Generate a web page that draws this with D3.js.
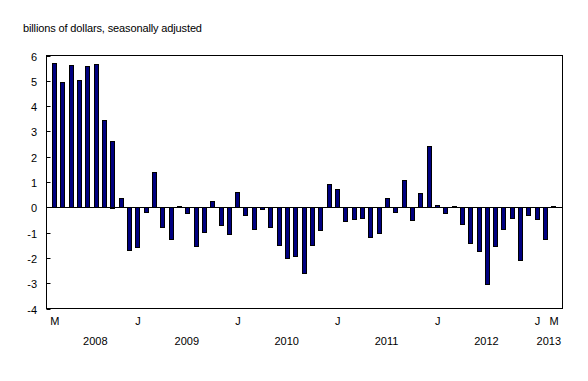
<!DOCTYPE html>
<html>
<head>
<meta charset="utf-8">
<script src="https://cdn.jsdelivr.net/npm/d3@7"></script>
<style>
  body { margin: 0; background: #fff; }
  svg text { font-family: "Liberation Sans", Arial, sans-serif; font-size: 11px; fill: #000; }
</style>
</head>
<body>
<script>
// monthly values, March 2008 to March 2013
const months = d3.timeMonths(new Date(2008, 2, 1), new Date(2013, 3, 1));
const values = [
  5.70, 4.95, 5.62, 5.03, 5.59, 5.66, 3.44, 2.63, 0.37, -1.70,
  -1.60, -0.21, 1.39, -0.79, -1.28, 0.05, -0.25, -1.56, -1.00, 0.24,
  -0.71, -1.08, 0.59, -0.32, -0.88, -0.09, -0.80, -1.50, -2.03, -1.95,
  -2.59, -1.52, -0.92, 0.92, 0.73, -0.57, -0.49, -0.45, -1.20, -1.04,
  0.37, -0.21, 1.08, -0.53, 0.57, 2.43, 0.08, -0.25, 0.05, -0.69,
  -1.44, -1.75, -3.06, -1.56, -0.88, -0.45, -2.11, -0.33, -0.49, -1.28,
  0.05
];
const yTicks = [-4, -3, -2, -1, 0, 1, 2, 3, 4, 5, 6];
const years = [2008, 2009, 2010, 2011, 2012, 2013];
const title = "billions of dollars, seasonally adjusted";

const data = months.map((m, i) => ({ date: m, value: values[i] }));

const width = 588, height = 381;
const margin = { left: 46.5, right: 562.5, top: 55.5, bottom: 308.5 };

const svg = d3.select("body").append("svg")
  .attr("width", width)
  .attr("height", height);

const x = d3.scaleBand()
  .domain(data.map(d => +d.date))
  .range([margin.left, margin.right])
  .paddingInner(0.34)
  .paddingOuter(0.67);

const y = d3.scaleLinear()
  .domain([-4, 6])
  .range([margin.bottom, margin.top]);

svg.append("text")
  .attr("x", 23)
  .attr("y", 32)
  .style("letter-spacing", "-0.13px")
  .text(title);

// y axis labels + short inward ticks
const yAxis = svg.append("g");
yTicks.forEach(t => {
  const yy = Math.round(y(t)) + 0.5;
  yAxis.append("text")
    .attr("x", 37)
    .attr("y", yy + 4)
    .attr("text-anchor", "end")
    .text(t);
  yAxis.append("line")
    .attr("x1", margin.left).attr("x2", margin.left + 4)
    .attr("y1", yy).attr("y2", yy)
    .attr("stroke", "#000");
});

// bars
svg.append("g")
  .selectAll("rect")
  .data(data)
  .join("rect")
  .attr("x", d => Math.round(x(+d.date)) + 0.5)
  .attr("width", Math.round(x.bandwidth()) - 1)
  .attr("y", d => Math.round(y(Math.max(0, d.value))) + 0.5)
  .attr("height", d => Math.max(1, Math.round(Math.abs(y(d.value) - y(0)))))
  .attr("fill", "#000080")
  .attr("stroke", "#000")
  .attr("stroke-width", 1);

// zero line
const y0 = Math.round(y(0)) + 0.5;
svg.append("line")
  .attr("x1", margin.left).attr("x2", margin.right)
  .attr("y1", y0).attr("y2", y0)
  .attr("stroke", "#000");

// frame
svg.append("rect")
  .attr("x", margin.left).attr("y", margin.top)
  .attr("width", margin.right - margin.left).attr("height", margin.bottom - margin.top)
  .attr("fill", "none")
  .attr("stroke", "#000");

// month labels: first/last month and each January
const cx = d => x(+d.date) + x.bandwidth() / 2;
const labelled = data.filter((d, i) => i === 0 || i === data.length - 1 || d.date.getMonth() === 0);
svg.append("g")
  .selectAll("text")
  .data(labelled)
  .join("text")
  .attr("x", d => cx(d))
  .attr("y", 325)
  .attr("text-anchor", "middle")
  .text(d => d3.timeFormat("%B")(d.date).charAt(0));

// year labels
svg.append("g")
  .selectAll("text")
  .data(years)
  .join("text")
  .attr("x", yr => {
    const ds = data.filter(d => d.date.getFullYear() === yr);
    return (cx(ds[0]) + cx(ds[ds.length - 1])) / 2 + 3;
  })
  .attr("y", 345)
  .attr("text-anchor", "middle")
  .text(yr => yr);
</script>
</body>
</html>
